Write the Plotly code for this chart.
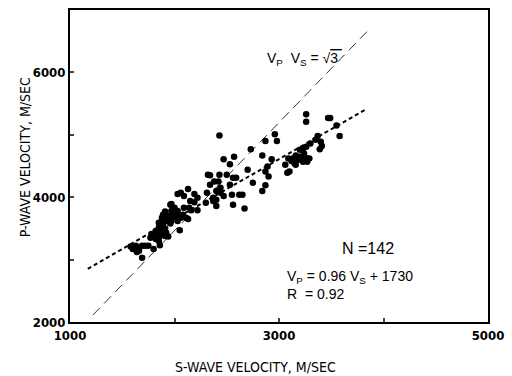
import plotly.graph_objects as go

# S-wave velocity (m/s) and P-wave velocity (m/s) for the 142 samples
vs = [3260, 3260, 3470, 3490, 3550, 3580, 3370, 3350, 3400, 3410, 3390, 3300, 3260, 3230, 3200,
      3160, 3200, 3230, 3260, 3270, 3210, 3180, 3150, 3120, 3160, 3090, 3060, 3100, 3080,
      2960, 2980, 2870, 2730, 2840, 2930, 2890, 2870, 2900, 2700, 2590, 2560, 2750, 2870, 2840,
      2430, 2470, 2570, 2530, 2500, 2430, 2320, 2340, 2380, 2340, 2310, 2440, 2440, 2470, 2370,
      2400, 2370, 2400, 2550, 2560, 2620, 2650, 2670, 2530,
      2130, 2060, 2030, 2190, 2090, 2220, 2190, 2150, 2300, 2220, 2160, 2110, 2130, 2080, 2030,
      2000, 1970, 1960, 1910, 1890, 1940, 1990, 2030, 2050, 1920, 1880, 1890, 1910, 1850, 1820,
      1830, 1880, 1800, 1770, 1820, 1940, 1850, 1720, 1750, 1690, 1800, 1860, 1630, 1580, 1650,
      1600, 1660, 1640, 1690,
      1970, 1920, 1960, 1860, 1890, 1920, 1780, 1830, 1860, 1910, 1970, 2000, 2030, 2060, 1880,
      1850, 2140, 2090, 3150, 3230, 3240, 3130, 3290, 2400, 2420]
vp = [5330, 5210, 5270, 5270, 5150, 4980, 4980, 4920, 4890, 4820, 4770, 4860, 4810, 4780, 4760,
      4670, 4650, 4650, 4630, 4570, 4600, 4600, 4540, 4580, 4520, 4620, 4520, 4410, 4390,
      5010, 4900, 4900, 4770, 4670, 4610, 4490, 4410, 4330, 4440, 4310, 4310, 4230, 4190, 4100,
      4990, 4610, 4650, 4530, 4360, 4360, 4360, 4350, 4250, 4200, 4070, 4150, 4070, 4020, 3990,
      3960, 3940, 3860, 4040, 3880, 4040, 4040, 3820, 4200,
      4130, 4070, 4050, 4050, 4020, 3990, 3920, 3940, 3910, 3790, 3790, 3670, 3650, 3720, 3780,
      3830, 3890, 3880, 3770, 3720, 3700, 3690, 3620, 3470, 3620, 3620, 3570, 3500, 3510, 3460,
      3410, 3410, 3380, 3350, 3330, 3370, 3300, 3220, 3220, 3220, 3170, 3230, 3220, 3210, 3190,
      3170, 3140, 3120, 3030,
      3780, 3670, 3580, 3460, 3460, 3430, 3410, 3350, 3380, 3380, 3620, 3720, 3700, 3670, 3670,
      3590, 3830, 3830, 4620, 4570, 4700, 4620, 4620, 4100, 4250]

# Reference lines
sqrt3_vs = [1220, 3860]
sqrt3_slope = 3 ** 0.5
fit_vs = [1170, 3820]
fit_slope, fit_intercept = 0.96, 1730

x_ticks = [1000, 2000, 3000, 4000, 5000]
x_labels = ["1000", "", "3000", "", "5000"]
y_ticks = [2000, 3000, 4000, 5000, 6000]
y_labels = ["2000", "", "4000", "", "6000"]

COND = "DejaVu Sans Condensed, Roboto Condensed, Liberation Sans Narrow, Arial Narrow, sans-serif"

fig = go.Figure()
fig.add_trace(go.Scatter(x=sqrt3_vs, y=[v * sqrt3_slope for v in sqrt3_vs], mode="lines",
                         line=dict(color="#333333", width=1, dash="10px,6px"), showlegend=False))
fig.add_trace(go.Scatter(x=fit_vs, y=[fit_slope * v + fit_intercept for v in fit_vs], mode="lines",
                         line=dict(color="black", width=2, dash="4px,3px"), showlegend=False))
fig.add_trace(go.Scatter(x=vs, y=vp, mode="markers",
                         marker=dict(color="black", size=6.5), showlegend=False))

tickfont = dict(family=COND, size=13, color="black", weight="bold")
fig.update_xaxes(range=[1000, 5000], tickvals=x_ticks, ticktext=x_labels, ticks="inside",
                 ticklen=4, tickwidth=1.5, showline=True, linecolor="black", linewidth=2,
                 mirror=True, showgrid=False, zeroline=False, tickfont=tickfont,
                 ticklabeloverflow="allow")
fig.update_yaxes(range=[2000, 7000], tickvals=y_ticks, ticktext=y_labels, ticks="inside",
                 ticklen=4, tickwidth=1.5, showline=True, linecolor="black", linewidth=2,
                 mirror=True, showgrid=False, zeroline=False, tickfont=tickfont,
                 ticklabeloverflow="allow")

lab = dict(family=COND, size=14, color="black")
txt = dict(family="Liberation Sans, Arial, sans-serif", size=14, color="black")
ann = [
    dict(text="S-WAVE VELOCITY, M/SEC", x=0.444, y=-0.143, font=lab),
    dict(text="P-WAVE VELOCITY, M/SEC", x=-0.107, y=0.529, font=lab, textangle=-90),
    dict(text="V<sub>P</sub>  V<sub>S</sub> = √<span style='text-decoration:overline'>3 </span>",
         x=0.467, y=0.844, xanchor="left", font=txt),
    dict(text="N =142", x=0.713, y=0.236,
         font=dict(family="Liberation Sans, Arial, sans-serif", size=16, color="black")),
    dict(text="V<sub>P</sub> = 0.96 V<sub>S</sub> + 1730", x=0.514, y=0.143, xanchor="left", font=txt),
    dict(text="R  = 0.92", x=0.514, y=0.089, xanchor="left", font=txt),
]
for a in ann:
    a.setdefault("xanchor", "center")
    fig.add_annotation(xref="paper", yref="paper", yanchor="middle", showarrow=False, **a)

fig.update_layout(width=512, height=376, margin=dict(l=70, r=14, t=8, b=54),
                  plot_bgcolor="white", paper_bgcolor="white")
fig.write_html("out.html")
